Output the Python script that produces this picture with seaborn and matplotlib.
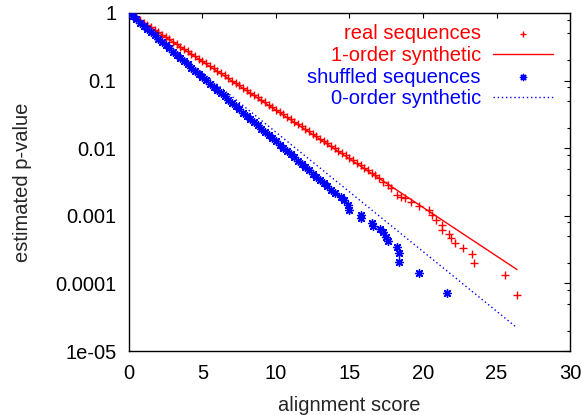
import numpy as np
import pandas as pd
import matplotlib
matplotlib.use("Agg")
import matplotlib.pyplot as plt
import matplotlib.ticker as mticker
import seaborn as sns

# real sequences (red +)
real_x = [0.0, 0.25, 0.5, 0.75, 1.0, 1.25, 1.5, 1.75, 2.0, 2.25, 2.5, 2.75, 3.0,
          3.25, 3.5, 3.75, 4.0, 4.25, 4.5, 4.75, 5.0, 5.25, 5.5, 5.75, 6.0, 6.25,
          6.5, 6.75, 7.0, 7.25, 7.5, 7.75, 8.0, 8.25, 8.5, 8.75, 9.0, 9.25, 9.5,
          9.75, 10.0, 10.25, 10.5, 10.75, 11.0, 11.25, 11.5, 11.75, 12.0, 12.25,
          12.5, 12.75, 13.0, 13.25, 13.5, 13.75, 14.0, 14.25, 14.5, 14.75, 15.0,
          15.25, 15.5, 15.75, 16.0, 16.25, 16.5, 16.75, 17.0, 17.3, 17.6, 17.8,
          18.2, 18.5, 18.8, 19.2, 19.7, 20.4, 20.6, 20.9, 21.3, 21.3, 21.8, 21.9,
          22.2, 22.7, 23.3, 23.5, 25.6, 26.4]
real_p = [1.0, 0.925, 0.852, 0.785, 0.722, 0.665, 0.612, 0.565, 0.52, 0.48,
          0.442, 0.406, 0.374, 0.345, 0.318, 0.293, 0.27, 0.249, 0.229, 0.211,
          0.194, 0.179, 0.165, 0.152, 0.14, 0.129, 0.119, 0.109, 0.1, 0.0925,
          0.085, 0.0785, 0.0722, 0.0665, 0.0612, 0.0563, 0.0518, 0.0478, 0.044,
          0.0405, 0.0373, 0.0343, 0.0316, 0.0291, 0.0268, 0.0247, 0.0228, 0.021,
          0.0193, 0.0178, 0.0164, 0.0151, 0.0139, 0.0128, 0.0118, 0.0108, 0.00998,
          0.0092, 0.00846, 0.0078, 0.00718, 0.0066, 0.00608, 0.0056, 0.00515,
          0.00472, 0.00432, 0.00398, 0.00365, 0.00316, 0.00285, 0.00257, 0.00204,
          0.00192, 0.00182, 0.00158, 0.00141, 0.00123, 0.00102, 0.00087, 0.00072,
          0.00062, 0.00054, 0.00047, 0.0004, 0.00033, 0.00027, 0.0002, 0.000132,
          0.0000676]

# shuffled sequences (blue *)
shuf_x = [0.0, 0.25, 0.5, 0.75, 1.0, 1.25, 1.5, 1.75, 2.0, 2.25, 2.5, 2.75, 3.0,
          3.25, 3.5, 3.75, 4.0, 4.25, 4.5, 4.75, 5.0, 5.25, 5.5, 5.75, 6.0, 6.25,
          6.5, 6.75, 7.0, 7.25, 7.5, 7.75, 8.0, 8.25, 8.5, 8.75, 9.0, 9.25, 9.5,
          9.75, 10.0, 10.25, 10.5, 10.75, 11.0, 11.25, 11.5, 11.75, 12.0, 12.25,
          12.5, 12.75, 13.0, 13.25, 13.5, 13.75, 14.0, 14.4, 14.6, 14.9, 15.0,
          15.8, 15.8, 16.5, 16.6, 17.1, 17.3, 17.5, 17.6, 18.2, 18.4, 18.4, 19.7,
          21.6]
shuf_p = [1.0, 0.896, 0.804, 0.72, 0.646, 0.579, 0.519, 0.465, 0.417, 0.374,
          0.335, 0.3, 0.269, 0.241, 0.216, 0.194, 0.174, 0.156, 0.14, 0.125,
          0.112, 0.1006, 0.0902, 0.0808, 0.0724, 0.0649, 0.0582, 0.0522, 0.0468,
          0.0419, 0.0376, 0.0337, 0.0302, 0.0271, 0.0243, 0.0218, 0.0195, 0.0175,
          0.0157, 0.014, 0.0126, 0.0113, 0.0101, 0.00907, 0.00813, 0.00729,
          0.00653, 0.00585, 0.00525, 0.0047, 0.00422, 0.00378, 0.00339, 0.00304,
          0.00272, 0.00244, 0.00219, 0.00191, 0.00174, 0.00145, 0.00123, 0.00102,
          0.00093, 0.00078, 0.00071, 0.00063, 0.00058, 0.00049, 0.00043, 0.00035,
          0.00028, 0.00021, 0.000141, 0.0000724]

# synthetic model lines (end points)
order1_x = [0.0, 26.4]
order1_p = [1.0, 0.00016]
order0_x = [0.0, 26.4]
order0_p = [1.0, 0.000022]

x_ticks = [0, 5, 10, 15, 20, 25, 30]
y_ticks = [1e-5, 1e-4, 1e-3, 1e-2, 1e-1, 1]
y_tick_labels = ["1e-05", "0.0001", "0.001", "0.01", "0.1", "1"]

sns.set_style("white")
plt.rcParams['font.family'] = ['Liberation Sans', 'DejaVu Sans']
plt.rcParams['font.size'] = 14.5

fig = plt.figure(figsize=(5.82, 4.15), dpi=100)
ax = fig.add_axes([0.2216, 0.1542, 0.7578, 0.8145])

red = "#ff0000"
blue = "#0000ff"

real_df = pd.DataFrame({"score": real_x, "p": real_p})
shuf_df = pd.DataFrame({"score": shuf_x, "p": shuf_p})

sns.scatterplot(data=real_df, x="score", y="p", marker="+", s=40, color=red,
                linewidth=1.0, ax=ax, label="real sequences", zorder=3)
sns.lineplot(x=order1_x, y=order1_p, color=red, lw=1.0, ax=ax,
             label="1-order synthetic", estimator=None)
sns.scatterplot(data=shuf_df, x="score", y="p", marker=(8, 2, 0), s=32, color=blue,
                linewidth=1.0, ax=ax, label="shuffled sequences", zorder=3)
sns.lineplot(x=order0_x, y=order0_p, color=blue, lw=1.0, ax=ax,
             linestyle=(0, (1, 2)), label="0-order synthetic", estimator=None)

ax.set_yscale("log")
ax.set_xlim(0, 30)
ax.set_ylim(1e-5, 1)
ax.set_xticks(x_ticks)
ax.xaxis.set_minor_locator(mticker.NullLocator())
ax.set_yticks(y_ticks)
ax.set_yticklabels(y_tick_labels)
ax.yaxis.set_minor_locator(mticker.LogLocator(base=10, subs=[2, 5, 8]))
ax.yaxis.set_minor_formatter(mticker.NullFormatter())

ax.tick_params(which="both", direction="in", top=True, right=True, colors="black")
ax.tick_params(axis="y", which="major", length=4.3, width=0.8, pad=9)
ax.tick_params(axis="y", which="minor", length=2.2, width=0.8)
ax.tick_params(axis="x", which="major", length=3.6, width=0.8, pad=9)
for sp in ax.spines.values():
    sp.set_color("black")
    sp.set_linewidth(1.0)

ax.set_xlabel("alignment score", labelpad=10)
ax.set_ylabel("estimated p-value", labelpad=17)

handles, labels = ax.get_legend_handles_labels()
leg = ax.legend(handles, labels, loc="upper right", bbox_to_anchor=(0.962, 0.966),
                frameon=False, markerfirst=False, handlelength=3.0,
                handletextpad=0.6, labelspacing=0.13, borderpad=0, borderaxespad=0,
                scatterpoints=1, labelcolor=[red, red, blue, blue])
# smaller legend marker glyphs, like the reference key
for h in leg.legend_handles:
    if hasattr(h, "set_sizes"):
        h.set_sizes([20])

fig.savefig("out.png", dpi=100)
